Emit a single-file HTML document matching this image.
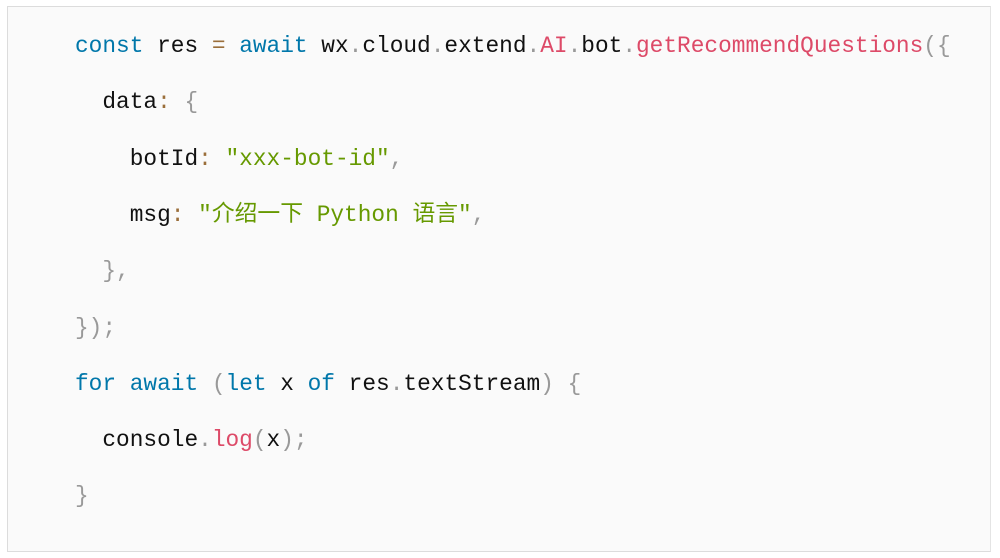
<!DOCTYPE html>
<html><head><meta charset="utf-8"><style>
html,body{margin:0;padding:0;background:#fff;width:1000px;height:558px;overflow:hidden}
.box{position:absolute;left:7px;top:6px;width:982px;height:544px;background:#fafafa;border:1px solid #dcdcdc;border-right-color:#e4e4e4}
.l{position:absolute;left:75px;font-family:"Liberation Mono","Noto Sans CJK SC",monospace;font-size:22.8px;color:#111;white-space:pre;line-height:28px}
.k{color:#0077aa}.o{color:#9a6e3a}.p{color:#999}.f{color:#dd4a68}.s{color:#669900}
</style></head><body>
<div class="box"></div>
<div class="l" style="top:32px"><span class="k">const</span> res <span class="o">=</span> <span class="k">await</span> wx<span class="p">.</span>cloud<span class="p">.</span>extend<span class="p">.</span><span class="f">AI</span><span class="p">.</span>bot<span class="p">.</span><span class="f">getRecommendQuestions</span><span class="p">({</span></div>
<div class="l" style="top:88px">  data<span class="o">:</span> <span class="p">{</span></div>
<div class="l" style="top:145px">    botId<span class="o">:</span> <span class="s">"xxx-bot-id"</span><span class="p">,</span></div>
<div class="l" style="top:201px">    msg<span class="o">:</span> <span class="s">"介绍一下 Python 语言"</span><span class="p">,</span></div>
<div class="l" style="top:257px">  <span class="p">},</span></div>
<div class="l" style="top:314px"><span class="p">});</span></div>
<div class="l" style="top:370px"><span class="k">for</span> <span class="k">await</span> <span class="p">(</span><span class="k">let</span> x <span class="k">of</span> res<span class="p">.</span>textStream<span class="p">)</span> <span class="p">{</span></div>
<div class="l" style="top:426px">  console<span class="p">.</span><span class="f">log</span><span class="p">(</span>x<span class="p">);</span></div>
<div class="l" style="top:482px"><span class="p">}</span></div>
</body></html>
